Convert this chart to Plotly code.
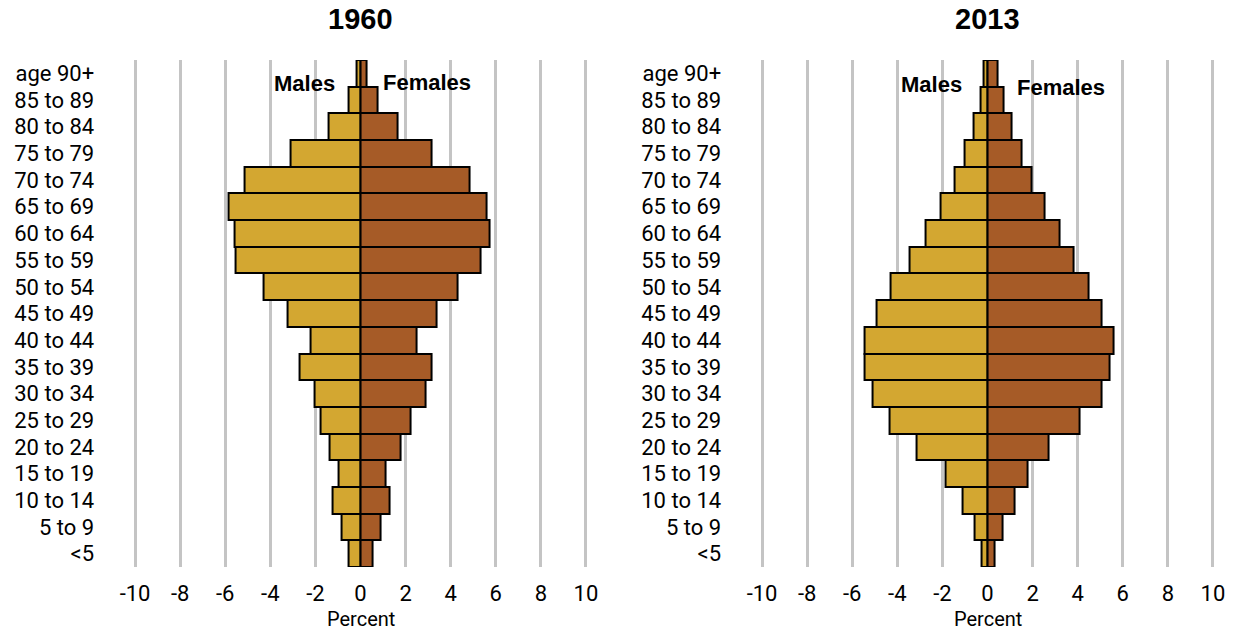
import plotly.graph_objects as go

# Age groups, bottom to top
age_groups = ["<5", "5 to 9", "10 to 14", "15 to 19", "20 to 24", "25 to 29",
              "30 to 34", "35 to 39", "40 to 44", "45 to 49", "50 to 54",
              "55 to 59", "60 to 64", "65 to 69", "70 to 74", "75 to 79",
              "80 to 84", "85 to 89", "age 90+"]

# Share of population (percent), same order as age_groups
males_1960 = [0.55, 0.84, 1.25, 0.99, 1.37, 1.77, 2.05, 2.70, 2.21, 3.22,
              4.29, 5.53, 5.60, 5.84, 5.16, 3.11, 1.42, 0.52, 0.18]
females_1960 = [0.53, 0.88, 1.27, 1.11, 1.77, 2.24, 2.88, 3.14, 2.48, 3.38,
                4.32, 5.31, 5.74, 5.60, 4.84, 3.17, 1.65, 0.74, 0.25]
males_2013 = [0.28, 0.59, 1.11, 1.88, 3.15, 4.34, 5.08, 5.45, 5.45, 4.90,
              4.31, 3.47, 2.75, 2.08, 1.46, 1.00, 0.64, 0.32, 0.18]
females_2013 = [0.31, 0.65, 1.18, 1.77, 2.70, 4.09, 5.04, 5.42, 5.61, 5.05,
                4.49, 3.83, 3.19, 2.53, 1.95, 1.51, 1.08, 0.69, 0.43]

x_ticks = [-10, -8, -6, -4, -2, 0, 2, 4, 6, 8, 10]

MALE_COLOR = "#D3A731"
FEMALE_COLOR = "#A65B27"
GRID_COLOR = "#C4C4C4"
TEXT_FONT = "Roboto, Liberation Sans, sans-serif"
BOLD_FONT = "Liberation Sans, Arial, sans-serif"

fig = go.Figure()

panels = [
    ("x", "y", males_1960, females_1960),
    ("x2", "y2", males_2013, females_2013),
]
for xa, ya, males, females in panels:
    fig.add_trace(go.Bar(
        y=age_groups, x=[-v for v in males], orientation="h",
        xaxis=xa, yaxis=ya, name="Males",
        marker=dict(color=MALE_COLOR, line=dict(color="black", width=2)),
        showlegend=False,
    ))
    fig.add_trace(go.Bar(
        y=age_groups, x=females, orientation="h",
        xaxis=xa, yaxis=ya, name="Females",
        marker=dict(color=FEMALE_COLOR, line=dict(color="black", width=2)),
        showlegend=False,
    ))

x_common = dict(
    range=[-10.2, 10.2], tickmode="array", tickvals=x_ticks,
    ticktext=[str(t) for t in x_ticks],
    showgrid=True, gridcolor=GRID_COLOR, gridwidth=3, zeroline=False,
    showline=False, ticks="outside", ticklen=7, tickcolor="rgba(0,0,0,0)",
    tickfont=dict(family=TEXT_FONT, size=22, color="black"),
    automargin=False, fixedrange=True,
)
y_common = dict(
    type="category", categoryorder="array", categoryarray=age_groups,
    tickmode="array", tickvals=age_groups, ticktext=age_groups,
    range=[-0.5, 18.5], showgrid=False, zeroline=False, showline=False,
    ticks="outside", ticklen=31, tickcolor="rgba(0,0,0,0)",
    tickfont=dict(family=TEXT_FONT, size=22, color="black"),
    automargin=False, fixedrange=True,
)

fig.update_layout(
    template="none",
    width=1234, height=630,
    margin=dict(l=0, r=0, t=0, b=0, autoexpand=False),
    paper_bgcolor="white", plot_bgcolor="white",
    barmode="overlay", bargap=0,
    xaxis=dict(domain=[0.1058, 0.4785], anchor="y", **x_common),
    yaxis=dict(domain=[0.1, 0.9048], anchor="x", **y_common),
    xaxis2=dict(domain=[0.6139, 0.9866], anchor="y2", **x_common),
    yaxis2=dict(domain=[0.1, 0.9048], anchor="x2", **y_common),
)

annotations = [
    dict(text="<b>1960</b>", x=0, xref="x", y=1.0, yref="paper", yshift=-19,
         yanchor="middle", font=dict(size=29)),
    dict(text="<b>2013</b>", x=0, xref="x2", y=1.0, yref="paper", yshift=-19,
         yanchor="middle", font=dict(size=29)),
    dict(text="Percent", x=0, xref="x", y=0, yref="paper", yshift=11,
         yanchor="middle", font=dict(family=TEXT_FONT, size=20)),
    dict(text="Percent", x=0, xref="x2", y=0, yref="paper", yshift=11,
         yanchor="middle", font=dict(family=TEXT_FONT, size=20)),
    dict(text="<b>Males</b>", x=-2.48, xref="x", y="age 90+", yref="y",
         yshift=-10, font=dict(size=22)),
    dict(text="<b>Females</b>", x=2.97, xref="x", y="age 90+", yref="y",
         yshift=-9, font=dict(size=22)),
    dict(text="<b>Males</b>", x=-2.48, xref="x2", y="age 90+", yref="y2",
         yshift=-11, font=dict(size=22)),
    dict(text="<b>Females</b>", x=3.24, xref="x2", y="age 90+", yref="y2",
         yshift=-14, font=dict(size=22)),
]
for a in annotations:
    a.setdefault("showarrow", False)
    a["font"].setdefault("family", BOLD_FONT)
    a["font"].setdefault("color", "black")
fig.update_layout(annotations=annotations)

fig.write_html("out.html")
